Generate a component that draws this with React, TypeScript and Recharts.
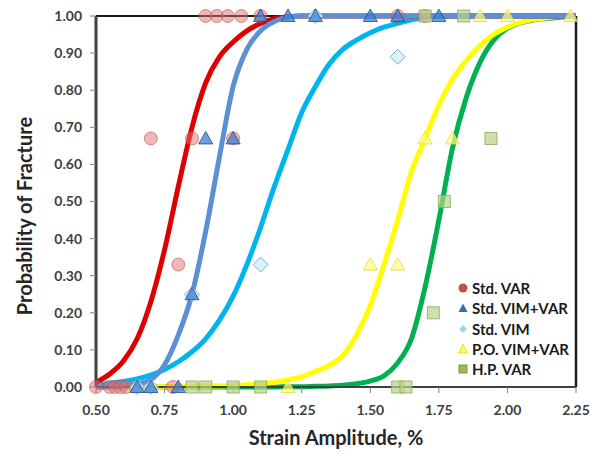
import React from "react";
import { ComposedChart, Line, Scatter, XAxis, YAxis, ReferenceLine, Label } from "recharts";

// Fitted probability curves on a 0.05 grid
const curveX = [
  0.5, 0.55, 0.6, 0.65, 0.7, 0.75, 0.8, 0.85, 0.9, 0.95, 1.0, 1.05, 1.1, 1.15, 1.2, 1.25, 1.3, 1.35,
  1.4, 1.45, 1.5, 1.55, 1.6, 1.65, 1.7, 1.75, 1.8, 1.85, 1.9, 1.95, 2.0, 2.05, 2.1, 2.15, 2.2, 2.25,
];
const stdVarCurve = [
  0.012, 0.035, 0.07, 0.13, 0.23, 0.37, 0.54, 0.7, 0.82, 0.89, 0.93, 0.96, 0.98, 0.993, 0.998, 1, 1, 1,
  1, 1, 1, 1, 1, 1, 1, 1, 1, 1, 1, 1, 1, 1, 1, 1, 1, 1,
];
const stdVimVarCurve = [
  0, 0.001, 0.003, 0.008, 0.02, 0.06, 0.14, 0.25, 0.42, 0.62, 0.81, 0.91, 0.96, 0.985, 0.997, 1, 1, 1,
  1, 1, 1, 1, 1, 1, 1, 1, 1, 1, 1, 1, 1, 1, 1, 1, 1, 1,
];
const stdVimCurve = [
  0.005, 0.01, 0.015, 0.022, 0.032, 0.047, 0.068, 0.095, 0.13, 0.18, 0.245, 0.33, 0.43, 0.54, 0.64, 0.74, 0.81, 0.87,
  0.91, 0.935, 0.955, 0.97, 0.98, 0.99, 0.996, 1, 1, 1, 1, 1, 1, 1, 1, 1, 1, 1,
];
const poVimVarCurve = [
  0, 0, 0, 0.001, 0.001, 0.001, 0.002, 0.002, 0.003, 0.003, 0.004, 0.006, 0.009, 0.013, 0.019, 0.028, 0.042, 0.058,
  0.085, 0.14, 0.22, 0.33, 0.45, 0.58, 0.67, 0.76, 0.83, 0.88, 0.92, 0.95, 0.97, 0.983, 0.991, 0.996, 0.999, 1,
];
const hpVarCurve = [
  0, 0, 0, 0, 0, 0, 0, 0, 0, 0, 0, 0, 0, 0, 0.001, 0.001, 0.002, 0.003,
  0.005, 0.009, 0.016, 0.03, 0.065, 0.13, 0.27, 0.45, 0.645, 0.78, 0.875, 0.935, 0.967, 0.982, 0.99, 0.994, 0.997, 1,
];

// Test results (strain amplitude %, probability)
const stdVarX = [0.5, 0.55, 0.57, 0.59, 0.61, 0.78, 0.8, 0.7, 0.85, 1.0, 0.9, 0.94, 0.98, 1.03, 1.1, 1.6, 1.7];
const stdVarY = [0, 0, 0, 0, 0, 0, 0.33, 0.67, 0.67, 0.67, 1, 1, 1, 1, 1, 1, 1];
const stdVimVarX = [0.65, 0.7, 0.8, 0.85, 0.9, 1.0, 1.1, 1.2, 1.3, 1.5, 1.6, 1.75];
const stdVimVarY = [0, 0, 0, 0.25, 0.67, 0.67, 1, 1, 1, 1, 1, 1];
const stdVimX = [0.65, 0.7, 0.85, 1.1, 1.3, 1.6];
const stdVimY = [0, 0, 0.25, 0.33, 1, 0.89];
const poVimVarX = [1.2, 1.5, 1.6, 1.7, 1.8, 1.9, 2.0, 2.23];
const poVimVarY = [0, 0.33, 0.33, 0.67, 0.67, 1, 1, 1];
const hpVarX = [0.85, 0.9, 1.0, 1.1, 1.6, 1.63, 1.73, 1.77, 1.94, 1.7, 1.84];
const hpVarY = [0, 0, 0, 0, 0, 0, 0.2, 0.5, 0.67, 1, 1];

const xTicks = [0.5, 0.75, 1.0, 1.25, 1.5, 1.75, 2.0, 2.25];
const yTicks = [0, 0.1, 0.2, 0.3, 0.4, 0.5, 0.6, 0.7, 0.8, 0.9, 1.0];

const toPoints = (xs: number[], ys: number[]) => xs.map((x, i) => ({ x, y: ys[i] }));

const font = "Lato, 'Open Sans', sans-serif";
const tickStyle = { fontFamily: font, fontWeight: 700, fontSize: 14, fill: "#404040" };

const circleShape = (p: any) => (
  <circle cx={p.cx} cy={p.cy} r={6.5} fill="#e07070" fillOpacity={0.5} stroke="#c0504d" strokeOpacity={0.6} strokeWidth={1} />
);
const triangle = (fill: string, stroke: string, op: number) => (p: any) => (
  <path
    d={`M${p.cx},${p.cy - 7} L${p.cx + 7},${p.cy + 5.5} L${p.cx - 7},${p.cy + 5.5} Z`}
    fill={fill}
    fillOpacity={op}
    stroke={stroke}
    strokeOpacity={0.8}
    strokeWidth={1}
  />
);
const diamondShape = (p: any) => (
  <path
    d={`M${p.cx},${p.cy - 7.5} L${p.cx + 7.5},${p.cy} L${p.cx},${p.cy + 7.5} L${p.cx - 7.5},${p.cy} Z`}
    fill="#d4f0fb"
    fillOpacity={0.85}
    stroke="#7fb2c8"
    strokeWidth={1}
  />
);
const squareShape = (p: any) => (
  <rect x={p.cx - 6} y={p.cy - 6} width={12} height={12} fill="#b8d38a" fillOpacity={0.7} stroke="#8aab55" strokeOpacity={0.8} strokeWidth={1} />
);

const legendItems = [
  { name: "Std. VAR", icon: <circle cx={5} cy={5} r={4.5} fill="#c0504d" /> },
  { name: "Std. VIM+VAR", icon: <path d="M5,0.5 L9.5,9 L0.5,9 Z" fill="#2f6fc0" /> },
  { name: "Std. VIM", icon: <path d="M5,1 L9,5 L5,9 L1,5 Z" fill="#9fd4ef" /> },
  { name: "P.O. VIM+VAR", icon: <path d="M5,0.5 L9.5,9 L0.5,9 Z" fill="#ffff66" stroke="#f0e000" /> },
  { name: "H.P. VAR", icon: <rect x={1} y={1} width={8} height={8} fill="#9bbb59" stroke="#7a9a3a" /> },
];

const YTitle = () => (
  <text
    x={32}
    y={216}
    transform="rotate(-90 32 216)"
    textAnchor="middle"
    style={{ fontFamily: font, fontWeight: 700, fontSize: 20, fill: "#262626" }}
  >
    Probability of Fracture
  </text>
);
const XTitle = () => (
  <text x={336} y={445} textAnchor="middle" style={{ fontFamily: font, fontWeight: 700, fontSize: 20, fill: "#262626" }}>
    Strain Amplitude, %
  </text>
);

export default function App() {
  return (
    <div style={{ position: "absolute", left: 0, top: 0, width: 600, height: 456, background: "#fff" }}>
      <ComposedChart width={600} height={456} margin={{ top: 16, right: 24, left: 0, bottom: 19 }}>
        <XAxis
          type="number"
          dataKey="x"
          domain={[0.5, 2.25]}
          ticks={xTicks}
          tickFormatter={(v: number) => v.toFixed(2)}
          tick={tickStyle}
          axisLine={{ stroke: "#404040", strokeWidth: 2 }}
          tickLine={{ stroke: "#808080" }}
          tickSize={6}
          tickMargin={12}
          height={50}
        >
          <Label content={XTitle} />
        </XAxis>
        <YAxis
          type="number"
          dataKey="y"
          domain={[0, 1]}
          ticks={yTicks}
          tickFormatter={(v: number) => v.toFixed(2)}
          tick={tickStyle}
          axisLine={{ stroke: "#404040", strokeWidth: 3 }}
          tickLine={{ stroke: "#808080" }}
          tickSize={6}
          tickMargin={8}
          width={96}
        >
          <Label content={YTitle} />
        </YAxis>
        <ReferenceLine y={1} stroke="#1a1a1a" strokeWidth={2} />
        <ReferenceLine x={2.25} stroke="#1a1a1a" strokeWidth={2.5} />

        <Line data={toPoints(curveX, hpVarCurve)} dataKey="y" type="monotone" stroke="#00b050" strokeWidth={5} dot={false} isAnimationActive={false} />
        <Line data={toPoints(curveX, poVimVarCurve)} dataKey="y" type="monotone" stroke="#ffff00" strokeWidth={5} dot={false} isAnimationActive={false} />
        <Line data={toPoints(curveX, stdVimCurve)} dataKey="y" type="monotone" stroke="#00b4f0" strokeWidth={5} dot={false} isAnimationActive={false} />
        <Line data={toPoints(curveX, stdVarCurve)} dataKey="y" type="monotone" stroke="#dd0000" strokeWidth={5} dot={false} isAnimationActive={false} />
        <Line data={toPoints(curveX, stdVimVarCurve)} dataKey="y" type="monotone" stroke="#5b8fd6" strokeWidth={5} dot={false} isAnimationActive={false} />

        <Scatter data={toPoints(stdVarX, stdVarY)} dataKey="y" shape={circleShape} isAnimationActive={false} />
        <Scatter data={toPoints(stdVimX, stdVimY)} dataKey="y" shape={diamondShape} isAnimationActive={false} />
        <Scatter data={toPoints(stdVimVarX, stdVimVarY)} dataKey="y" shape={triangle("#3a7fd5", "#1f4e8c", 0.75)} isAnimationActive={false} />
        <Scatter data={toPoints(hpVarX, hpVarY)} dataKey="y" shape={squareShape} isAnimationActive={false} />
        <Scatter data={toPoints(poVimVarX, poVimVarY)} dataKey="y" shape={triangle("#ffff80", "#f2d33a", 0.7)} isAnimationActive={false} />
      </ComposedChart>

      <div style={{ position: "absolute", left: 458, top: 278, fontFamily: font, fontWeight: 700, fontSize: 15, color: "#1a1a1a" }}>
        {legendItems.map((item) => (
          <div key={item.name} style={{ display: "flex", alignItems: "center", height: 20.3, whiteSpace: "nowrap" }}>
            <svg width={10} height={10} style={{ marginRight: 4 }}>
              {item.icon}
            </svg>
            {item.name}
          </div>
        ))}
      </div>
    </div>
  );
}
